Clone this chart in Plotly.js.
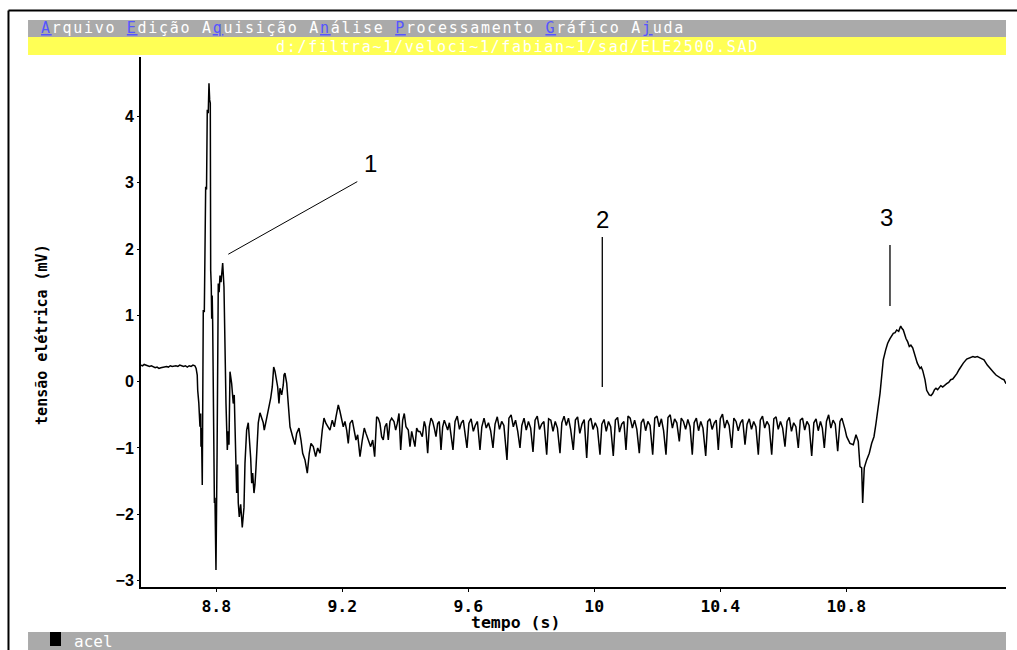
<!DOCTYPE html>
<html>
<head>
<meta charset="utf-8">
<script src="https://cdn.plot.ly/plotly-3.0.1.min.js"></script>
<style>html,body{margin:0;padding:0;background:#fff;}#chart{width:1017px;height:650px;}</style>
</head>
<body>
<div id="chart"></div>
<script>
// ---- data: [tempo (s), tensão (mV)] ----
const baseline = [[8.561,0.25],[8.566,0.24],[8.571,0.26],[8.576,0.25],[8.582,0.24],[8.588,0.23],[8.594,0.24],[8.600,0.22],[8.606,0.21],[8.612,0.22],[8.618,0.20],[8.624,0.21],[8.630,0.22],[8.636,0.22],[8.642,0.23],[8.648,0.22],[8.654,0.24],[8.660,0.23],[8.666,0.24],[8.672,0.24],[8.678,0.23],[8.684,0.25],[8.690,0.24],[8.696,0.23],[8.702,0.24],[8.708,0.22],[8.714,0.24],[8.720,0.23],[8.726,0.25],[8.732,0.24],[8.736,0.20]];

const burst = [[8.7395,0.10],[8.741,-0.13],[8.7445,-0.32],[8.7482,-0.68],[8.7505,-0.48],[8.7514,-0.98],[8.7530,-0.70],[8.7555,-1.56],[8.7587,1.08],[8.7620,1.05],[8.7663,2.94],[8.7690,2.90],[8.7714,4.10],[8.7745,4.05],[8.7768,4.50],[8.7790,4.25],[8.7810,4.20],[8.7822,1.68],[8.7840,1.45],[8.7854,0.95],[8.7870,1.30],[8.7885,0.90],[8.7904,-0.33],[8.7940,-1.83],[8.7958,-1.75],[8.7990,-2.84],[8.8025,-1.10],[8.8040,0.78],[8.8063,1.48],[8.8090,1.35],[8.8117,1.60],[8.8150,1.50],[8.8203,1.79],[8.8244,1.43],[8.8276,0.18],[8.8308,-0.33],[8.8350,-1.03],[8.8381,-0.75],[8.8403,-0.95],[8.8435,0.15],[8.8488,-0.03],[8.8539,-0.33],[8.8570,-0.20],[8.8593,-0.73],[8.8647,-1.68],[8.8679,-1.25],[8.8698,-1.83],[8.8730,-2.04],[8.8774,-1.85],[8.8825,-2.20],[8.8857,-1.95],[8.8879,-1.90],[8.8911,-1.23],[8.8964,-0.73],[8.9015,-0.62],[8.9047,-0.80],[8.9092,-1.15],[8.9124,-1.53],[8.9155,-1.38],[8.9197,-1.68],[8.9228,-1.55],[8.9260,-1.30],[8.9292,-1.00],[8.9333,-0.62],[8.9387,-0.47],[8.9440,-0.55],[8.9491,-0.62],[8.9523,-0.73],[8.9577,-0.60],[8.9631,-0.50],[8.9673,-0.38],[8.9727,-0.25],[8.9777,-0.08],[8.9822,0.22],[8.9863,0.16],[8.9917,0.00],[8.9949,-0.08],[8.9990,-0.33],[9.0022,-0.10],[9.0076,-0.20],[9.0126,-0.05],[9.0149,0.10],[9.0180,0.13]];

const settling = [[9.0235,-0.02],[9.0285,-0.28],[9.0340,-0.68],[9.0425,-0.83],[9.0498,-0.95],[9.0552,-0.78],[9.0625,-0.70],[9.0689,-0.88],[9.0743,-1.08],[9.0816,-1.18],[9.0889,-1.38],[9.0952,-1.08],[9.1006,-0.93],[9.1079,-0.98],[9.1155,-1.13],[9.1219,-1.00],[9.1292,-1.08],[9.1365,-0.73],[9.1419,-0.55],[9.1482,-0.63],[9.1555,-0.70],[9.1609,-0.73],[9.1682,-0.58],[9.1746,-0.68],[9.1800,-0.53],[9.1873,-0.35],[9.1927,-0.45],[9.1980,-0.58],[9.2031,-0.68],[9.2085,-0.60],[9.2139,-0.73],[9.2190,-0.93],[9.2244,-0.63],[9.2317,-0.58],[9.2371,-0.70],[9.2434,-0.88],[9.2488,-0.80],[9.2562,-1.13],[9.2635,-0.88],[9.2698,-0.70],[9.2752,-0.78],[9.2825,-0.88],[9.2901,-0.98],[9.2965,-0.88],[9.3028,-1.13],[9.3091,-0.53],[9.3142,-0.55],[9.3196,-0.63],[9.3250,-0.83],[9.3301,-0.88],[9.3355,-0.68],[9.3409,-0.63],[9.3460,-0.88],[9.3514,-0.60],[9.3568,-0.55],[9.3641,-0.60],[9.3695,-0.73],[9.3746,-0.63],[9.3800,-0.48],[9.3854,-1.03],[9.3917,-0.58],[9.3968,-0.48],[9.4022,-0.68],[9.4095,-0.73],[9.4149,-0.98],[9.4203,-0.75],[9.4253,-0.88],[9.4307,-0.98],[9.4361,-0.70],[9.4412,-0.75],[9.4466,-0.75],[9.4539,-0.83],[9.4603,-0.60],[9.4647,-0.68],[9.4711,-1.08],[9.4762,-0.68],[9.4816,-0.55],[9.4870,-0.60],[9.4921,-0.70],[9.4975,-0.83],[9.5028,-0.63],[9.5079,-0.60],[9.5133,-1.03],[9.5187,-0.68],[9.5238,-0.58],[9.5292,-0.65],[9.5346,-0.73]];

const plateau = [[9.540,-0.62],[9.545,-0.78],[9.5514,-1.03],[9.558,-0.60],[9.565,-0.52],[9.572,-0.72],[9.578,-0.62],[9.584,-0.58],[9.590,-0.80],[9.5958,-1.00],[9.602,-0.63],[9.609,-0.56],[9.616,-0.75],[9.622,-0.66],[9.629,-0.60],[9.6371,-1.03],[9.643,-0.68],[9.650,-0.55],[9.657,-0.70],[9.664,-0.62],[9.671,-0.74],[9.6784,-1.00],[9.685,-0.64],[9.692,-0.53],[9.699,-0.72],[9.706,-0.60],[9.713,-0.66],[9.7228,-1.18],[9.729,-0.55],[9.736,-0.50],[9.743,-0.68],[9.750,-0.58],[9.757,-0.75],[9.7641,-1.00],[9.770,-0.66],[9.777,-0.55],[9.784,-0.73],[9.791,-0.60],[9.798,-0.70],[9.8054,-1.06],[9.812,-0.58],[9.819,-0.52],[9.826,-0.72],[9.833,-0.64],[9.840,-0.60],[9.8489,-1.10],[9.855,-0.56],[9.862,-0.58],[9.869,-0.75],[9.876,-0.60],[9.883,-0.70],[9.8911,-1.08],[9.897,-0.62],[9.904,-0.52],[9.911,-0.66],[9.918,-0.55],[9.925,-0.72],[9.9333,-1.03],[9.940,-0.58],[9.947,-0.53],[9.954,-0.78],[9.961,-0.64],[9.968,-0.57],[9.9759,-1.15],[9.982,-0.60],[9.989,-0.55],[9.996,-0.72],[10.003,-0.62],[10.010,-0.70],[10.0181,-1.10],[10.024,-0.64],[10.031,-0.57],[10.038,-0.75],[10.045,-0.60],[10.052,-0.68],[10.0603,-1.12],[10.067,-0.58],[10.074,-0.54],[10.080,-0.76],[10.087,-0.64],[10.094,-0.60],[10.1006,-1.03],[10.107,-0.52],[10.114,-0.55],[10.121,-0.70],[10.128,-0.58],[10.135,-0.72],[10.1429,-1.08],[10.149,-0.62],[10.156,-0.56],[10.163,-0.74],[10.170,-0.60],[10.177,-0.66],[10.1854,-1.10],[10.192,-0.55],[10.199,-0.52],[10.206,-0.68],[10.213,-0.56],[10.220,-0.74],[10.2276,-1.10],[10.234,-0.54],[10.241,-0.50],[10.248,-0.70],[10.255,-0.56],[10.262,-0.62],[10.2699,-0.90],[10.276,-0.55],[10.283,-0.60],[10.290,-0.72],[10.297,-0.57],[10.304,-0.68],[10.3111,-1.10],[10.317,-0.62],[10.324,-0.55],[10.331,-0.74],[10.338,-0.60],[10.345,-0.70],[10.3537,-1.12],[10.360,-0.60],[10.367,-0.56],[10.374,-0.72],[10.381,-0.62],[10.387,-0.58],[10.3937,-1.03],[10.400,-0.56],[10.407,-0.49],[10.414,-0.70],[10.421,-0.58],[10.428,-0.66],[10.4362,-1.00],[10.443,-0.55],[10.450,-0.60],[10.457,-0.74],[10.464,-0.62],[10.471,-0.57],[10.4784,-0.95],[10.485,-0.64],[10.492,-0.56],[10.499,-0.72],[10.506,-0.60],[10.513,-0.68],[10.5207,-1.10],[10.527,-0.58],[10.534,-0.52],[10.541,-0.70],[10.548,-0.60],[10.555,-0.66],[10.5632,-1.10],[10.570,-0.56],[10.577,-0.53],[10.584,-0.72],[10.591,-0.60],[10.598,-0.70],[10.6054,-0.98],[10.612,-0.60],[10.619,-0.54],[10.626,-0.75],[10.633,-0.62],[10.640,-0.68],[10.6476,-1.00],[10.654,-0.58],[10.661,-0.55],[10.668,-0.73],[10.675,-0.60],[10.682,-0.66],[10.6902,-1.12],[10.697,-0.62],[10.704,-0.56],[10.711,-0.74],[10.718,-0.60],[10.724,-0.70],[10.7302,-1.00],[10.737,-0.60],[10.744,-0.50],[10.751,-0.70],[10.758,-0.58],[10.765,-0.64],[10.7727,-1.05],[10.780,-0.60],[10.786,-0.55],[10.796,-0.72]];

const event3 = [[10.8013,-0.83],[10.8117,-0.93],[10.8222,-0.95],[10.8308,-0.80],[10.8380,-0.90],[10.8435,-1.28],[10.8488,-1.30],[10.8520,-1.83],[10.8570,-1.30],[10.8647,-1.18],[10.8730,-1.08],[10.8806,-0.93],[10.8879,-0.83],[10.8943,-0.63],[10.9016,-0.38],[10.9070,-0.18],[10.9123,0.08],[10.9174,0.33],[10.9251,0.48],[10.9314,0.58],[10.9387,0.65],[10.9440,0.70],[10.9492,0.73],[10.9550,0.74],[10.9600,0.78],[10.9663,0.76],[10.9727,0.84],[10.9770,0.80],[10.9809,0.78],[10.9895,0.65],[10.9950,0.60],[11.0000,0.53],[11.0050,0.55],[11.0108,0.51],[11.0181,0.40],[11.0254,0.28],[11.0340,0.20],[11.0380,0.22],[11.0425,0.17],[11.0498,0.03],[11.0552,-0.13],[11.0635,-0.20],[11.0690,-0.21],[11.0743,-0.18],[11.0800,-0.12],[11.0847,-0.10],[11.0900,-0.12],[11.0952,-0.09],[11.1000,-0.06],[11.1060,-0.08],[11.1120,-0.05],[11.1187,-0.03],[11.1250,-0.01],[11.1314,0.03],[11.1380,0.04],[11.1450,0.08],[11.1510,0.12],[11.1578,0.18],[11.1650,0.24],[11.1714,0.28],[11.1822,0.34],[11.1880,0.35],[11.1949,0.36],[11.2020,0.38],[11.2086,0.37],[11.2160,0.38],[11.2244,0.36],[11.2300,0.35],[11.2371,0.33],[11.2476,0.25],[11.2540,0.22],[11.2616,0.18],[11.2680,0.14],[11.2752,0.10],[11.2820,0.08],[11.2879,0.05],[11.2950,0.04],[11.3006,0.03],[11.3070,-0.03]];

const xTickVals = [8.8, 9.2, 9.6, 10, 10.4, 10.8];
const xTickText = ['8.8', '9.2', '9.6', '10', '10.4', '10.8'];
const yTickVals = [-3, -2, -1, 0, 1, 2, 3, 4];
const markerLabels = ['1', '2', '3'];
const markerLabelT = [9.290, 10.0245, 10.929];
const markerLabelV = [3.29, 2.44, 2.48];

const xRange = [8.561, 11.307];
const yRange = [-3.097, 4.897];

// ---- build ----
const all = baseline.concat(burst, settling, plateau, event3);
const tempo = all.map(p => p[0]);
const tensao = all.map(p => p[1]);

const mono = 'DejaVu Sans Mono, Liberation Mono, monospace';
const spaced = s => '<span style="letter-spacing:1.7px">' + s + '</span>';
const hk = c => '<span style="color:#5555ff"><u>' + c + '</u></span>';
const menuText = spaced(hk('A') + 'rquivo ' + hk('E') + 'dição A' + hk('q') + 'uisição A' + hk('n') + 'álise ' + hk('P') + 'rocessamento ' + hk('G') + 'ráfico A' + hk('j') + 'uda');

const trace = {
  x: tempo, y: tensao, type: 'scatter', mode: 'lines',
  line: {color: '#000', width: 1.5}, hoverinfo: 'skip'
};

const annotations = [
  {xref:'paper', yref:'paper', x:-0.1179, y:1.0538, xanchor:'left', yanchor:'middle', showarrow:false,
   text: menuText, font:{family:mono, size:15, color:'#ffffff'}},
  {xref:'paper', yref:'paper', x:0.4353, y:1.0198, xanchor:'center', yanchor:'middle', showarrow:false,
   text: spaced('d:/filtra~1/veloci~1/fabian~1/sad/ELE2500.SAD'), font:{family:mono, size:15, color:'#ffffff'}},
  {xref:'paper', yref:'paper', x:-0.0798, y:-0.1019, xanchor:'left', yanchor:'middle', showarrow:false,
   text:'acel', font:{family:mono, size:16, color:'#ffffff'}},
  {xref:'paper', yref:'paper', x:0.4335, y:-0.0668, xanchor:'center', yanchor:'middle', showarrow:false,
   text:'<b>tempo (s)</b>', font:{family:mono, size:16.5, color:'#000'}},
  {xref:'paper', yref:'paper', x:-0.1145, y:0.4774, xanchor:'center', yanchor:'middle', showarrow:false, textangle:-90,
   text:'<b>tensão elétrica (mV)</b>', font:{family:mono, size:15, color:'#000'}}
];
markerLabels.forEach((s, i) => annotations.push({
  xref:'x', yref:'y', x:markerLabelT[i], y:markerLabelV[i], xanchor:'center', yanchor:'middle', showarrow:false,
  text:s, font:{family:'Liberation Sans, Arial, sans-serif', size:24, color:'#000'}
}));

const shapes = [
  // window frame
  {type:'line', xref:'paper', yref:'paper', x0:-0.1532, x1:-0.1532, y0:1.0877, y1:-0.13, line:{color:'#000', width:2}},
  {type:'line', xref:'paper', yref:'paper', x0:-0.1532, x1:1.02, y0:1.0877, y1:1.0877, line:{color:'#000', width:2}},
  // menu bar, path bar, status bar
  {type:'rect', xref:'paper', yref:'paper', x0:-0.1306, x1:1.0, y0:1.0377, y1:1.0698, fillcolor:'#aaaaaa', line:{width:0}},
  {type:'rect', xref:'paper', yref:'paper', x0:-0.1306, x1:1.0, y0:1.00377, y1:1.0377, fillcolor:'#ffff55', line:{width:0}},
  {type:'rect', xref:'paper', yref:'paper', x0:-0.1306, x1:1.0, y0:-0.125, y1:-0.0849, fillcolor:'#aaaaaa', line:{width:0}},
  {type:'rect', xref:'paper', yref:'paper', x0:-0.1052, x1:-0.0925, y0:-0.1113, y1:-0.0849, fillcolor:'#000000', line:{width:0}},
  // pointer lines for labels 1, 2, 3
  {type:'line', xref:'x', yref:'y', x0:8.8381, y0:1.922, x1:9.2476, y1:3.017, line:{color:'#000', width:1}},
  {type:'line', xref:'x', yref:'y', x0:10.0254, y0:2.183, x1:10.0254, y1:-0.08, line:{color:'#000', width:1.3}},
  {type:'line', xref:'x', yref:'y', x0:10.9387, y0:2.062, x1:10.9387, y1:1.143, line:{color:'#000', width:1.3}}
];

const layout = {
  width: 1017, height: 650,
  margin: {l:141, r:11, t:57, b:63, pad:0},
  paper_bgcolor: '#ffffff', plot_bgcolor: '#ffffff',
  showlegend: false,
  xaxis: {
    range: xRange, tickmode:'array', tickvals: xTickVals, ticktext: xTickText,
    showline: true, linecolor:'#000', linewidth: 2, ticks:'outside', ticklen:3, tickcolor:'#000', tickwidth:1,
    showgrid:false, zeroline:false,
    tickfont: {family: mono, size: 16.5, color:'#000', weight: 'bold'}
  },
  yaxis: {
    range: yRange, tickmode:'array', tickvals: yTickVals,
    showline: true, linecolor:'#000', linewidth: 2, ticks:'outside', ticklen:2, tickcolor:'#000', tickwidth:1,
    showgrid:false, zeroline:false,
    tickfont: {family: 'Liberation Sans, Arial, sans-serif', size: 16, color:'#000', weight: 'bold'}
  },
  annotations: annotations,
  shapes: shapes
};

Plotly.newPlot('chart', [trace], layout, {displayModeBar:false, staticPlot:true});
</script>
</body>
</html>
